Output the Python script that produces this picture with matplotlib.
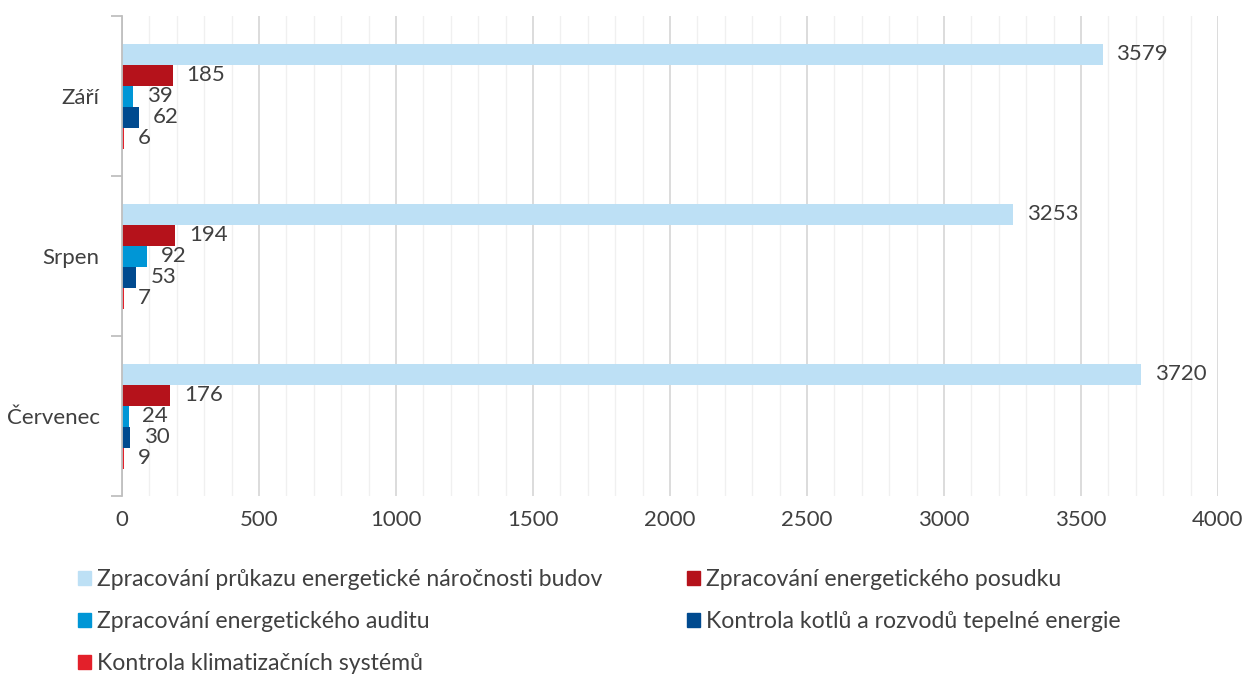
import matplotlib.pyplot as plt
from matplotlib.patches import Patch
from matplotlib.ticker import MultipleLocator
import numpy as np

plt.rcParams['font.family'] = ['Lato', 'DejaVu Sans']

# Données
mesice = ['Červenec', 'Srpen', 'Září']
serie = [
    'Zpracování průkazu energetické náročnosti budov',
    'Zpracování energetického posudku',
    'Zpracování energetického auditu',
    'Kontrola kotlů a rozvodů tepelné energie',
    'Kontrola klimatizačních systémů',
]
prukaz = [3720, 3253, 3579]
posudek = [176, 194, 185]
audit = [24, 92, 39]
kotle = [30, 53, 62]
klimatizace = [9, 7, 6]
barvy = ['#BDE0F5', '#B5121B', '#0096D6', '#004A8F', '#E3202A']
x_ticks = [0, 500, 1000, 1500, 2000, 2500, 3000, 3500, 4000]

hodnoty = [prukaz, posudek, audit, kotle, klimatizace]
fs = 16

fig = plt.figure(figsize=(12.47, 6.75), dpi=100)
ax = fig.add_axes([0.0978, 0.265, 0.8789, 0.711])

y = np.arange(len(mesice))
h = 0.131
for i, (vals, c) in enumerate(zip(hodnoty, barvy)):
    bars = ax.barh(y + (2 - i) * h, vals, height=h, color=c, zorder=3)
    ax.bar_label(bars, labels=[str(v) for v in vals], padding=10,
                 fontsize=fs, color='#404040')

ax.set_xlim(0, 4000)
ax.set_ylim(-0.5, 2.5)
ax.set_xticks(x_ticks)
ax.xaxis.set_minor_locator(MultipleLocator(100))
ax.grid(axis='x', which='major', color='#D9D9D9', linewidth=1.3, zorder=0)
ax.grid(axis='x', which='minor', color='#F0F0F0', linewidth=1.0, zorder=0)
ax.tick_params(axis='x', which='both', length=0, labelsize=fs,
               labelcolor='#404040', pad=10)

ax.set_yticks(y)
ax.set_yticklabels(mesice)
ax.set_yticks([-0.5, 0.5, 1.5, 2.5], minor=True)
ax.tick_params(axis='y', which='major', length=0, labelsize=fs,
               labelcolor='#404040', pad=16)
ax.tick_params(axis='y', which='minor', length=8, color='#BFBFBF', width=1.3)

for s in ['top', 'right', 'bottom']:
    ax.spines[s].set_visible(False)
ax.spines['left'].set_color('#BFBFBF')
ax.spines['left'].set_linewidth(1.3)
ax.spines['left'].set_zorder(4)

handles = [Patch(color=c, label=s) for s, c in zip(serie, barvy)]
order = [0, 2, 4, 1, 3]
fig.legend([handles[i] for i in order], [serie[i] for i in order],
           ncol=2, loc='upper left', bbox_to_anchor=(0.046, 0.188),
           frameon=False, fontsize=16.6, labelcolor='#404040',
           handlelength=0.55, handleheight=0.55, handletextpad=0.25,
           labelspacing=0.92, columnspacing=3.7)

fig.savefig('out.png', dpi=100)
